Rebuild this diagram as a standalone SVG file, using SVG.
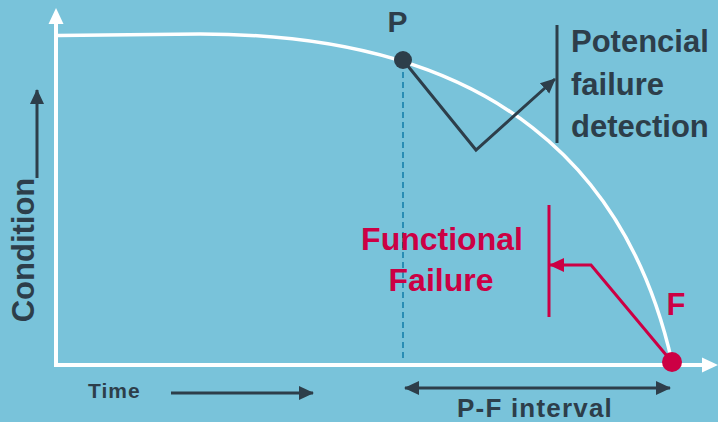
<svg xmlns="http://www.w3.org/2000/svg" width="718" height="422" viewBox="0 0 718 422">
<defs>
<style>
.t{font-family:"Liberation Sans",Arial,sans-serif;font-weight:bold}
.dk{fill:#2d3e4a}
.rd{fill:#cc0044}
.ln{fill:none;stroke-linecap:butt;stroke-linejoin:miter}
</style>
<marker id="ahd" markerWidth="16" markerHeight="16" refX="14" refY="7" orient="auto" markerUnits="userSpaceOnUse" viewBox="0 0 16 14">
<path d="M0,0 L15,7 L0,14 Z" fill="#2d3e4a"/>
</marker>
<marker id="ahd2" markerWidth="16" markerHeight="16" refX="1" refY="7" orient="auto" markerUnits="userSpaceOnUse" viewBox="0 0 16 14">
<path d="M15,0 L0,7 L15,14 Z" fill="#2d3e4a"/>
</marker>
<marker id="ahr" markerWidth="16" markerHeight="16" refX="14" refY="7" orient="auto" markerUnits="userSpaceOnUse" viewBox="0 0 16 14">
<path d="M0,0 L15,7 L0,14 Z" fill="#cc0044"/>
</marker>
</defs>
<rect width="718" height="422" fill="#79c3da"/>

<g id="axes">
<line x1="56" y1="367" x2="56" y2="22" stroke="#ffffff" stroke-width="4"/>
<polygon points="56,8 48.5,24 63.5,24" fill="#ffffff"/>
<line x1="54" y1="365" x2="703" y2="365" stroke="#ffffff" stroke-width="4"/>
<polygon points="718,365 702,357.5 702,372.5" fill="#ffffff"/>
</g>

<g id="curve">
<path class="ln" d="M58,35.5 L200,34 C500,34 630,175 672,362" stroke="#ffffff" stroke-width="3.5"/>
</g>

<g id="connectors">
<line x1="403" y1="62" x2="403" y2="358" stroke="#2a8db4" stroke-width="2" stroke-dasharray="6,4"/>
<polyline class="ln" points="403,60 476,150 555,79" stroke="#2d3e4a" stroke-width="3" marker-end="url(#ahd)"/>
<line x1="557" y1="25" x2="557" y2="143" stroke="#2d3e4a" stroke-width="3"/>
<polyline class="ln" points="672,362 591,265 550,265" stroke="#cc0044" stroke-width="3" marker-end="url(#ahr)"/>
<line x1="549" y1="205" x2="549" y2="317" stroke="#cc0044" stroke-width="3"/>
<line x1="37" y1="178" x2="37" y2="90" stroke="#2d3e4a" stroke-width="3" marker-end="url(#ahd)"/>
<line x1="171" y1="393" x2="313" y2="393" stroke="#2d3e4a" stroke-width="3" marker-end="url(#ahd)"/>
<line x1="405" y1="388" x2="670" y2="388" stroke="#2d3e4a" stroke-width="3" marker-start="url(#ahd2)" marker-end="url(#ahd)"/>
</g>

<g id="nodeP">
<circle cx="403" cy="60" r="9" fill="#2d3e4a"/>
<text class="t dk" x="397.5" y="32" font-size="30" text-anchor="middle">P</text>
</g>

<g id="nodeF">
<circle cx="672" cy="362" r="10" fill="#cc0044"/>
<text class="t rd" x="676" y="315" font-size="31" text-anchor="middle">F</text>
</g>

<g id="potential-label">
<text class="t dk" x="571" y="52" font-size="31">Potencial</text>
<text class="t dk" x="571" y="95" font-size="31">failure</text>
<text class="t dk" x="571" y="137" font-size="31">detection</text>
</g>

<g id="functional-label">
<text class="t rd" x="442" y="250" font-size="32" text-anchor="middle">Functional</text>
<text class="t rd" x="441" y="291" font-size="32" text-anchor="middle">Failure</text>
</g>

<g id="condition-label">
<text class="t dk" transform="translate(34,250) rotate(-90)" x="0" y="0" font-size="31" text-anchor="middle">Condition</text>
</g>

<g id="time-label">
<text class="t dk" x="88" y="398" font-size="21" letter-spacing="1">Time</text>
</g>

<g id="pf-label">
<text class="t dk" x="535" y="417" font-size="26" letter-spacing="1.2" text-anchor="middle">P-F interval</text>
</g>
</svg>
